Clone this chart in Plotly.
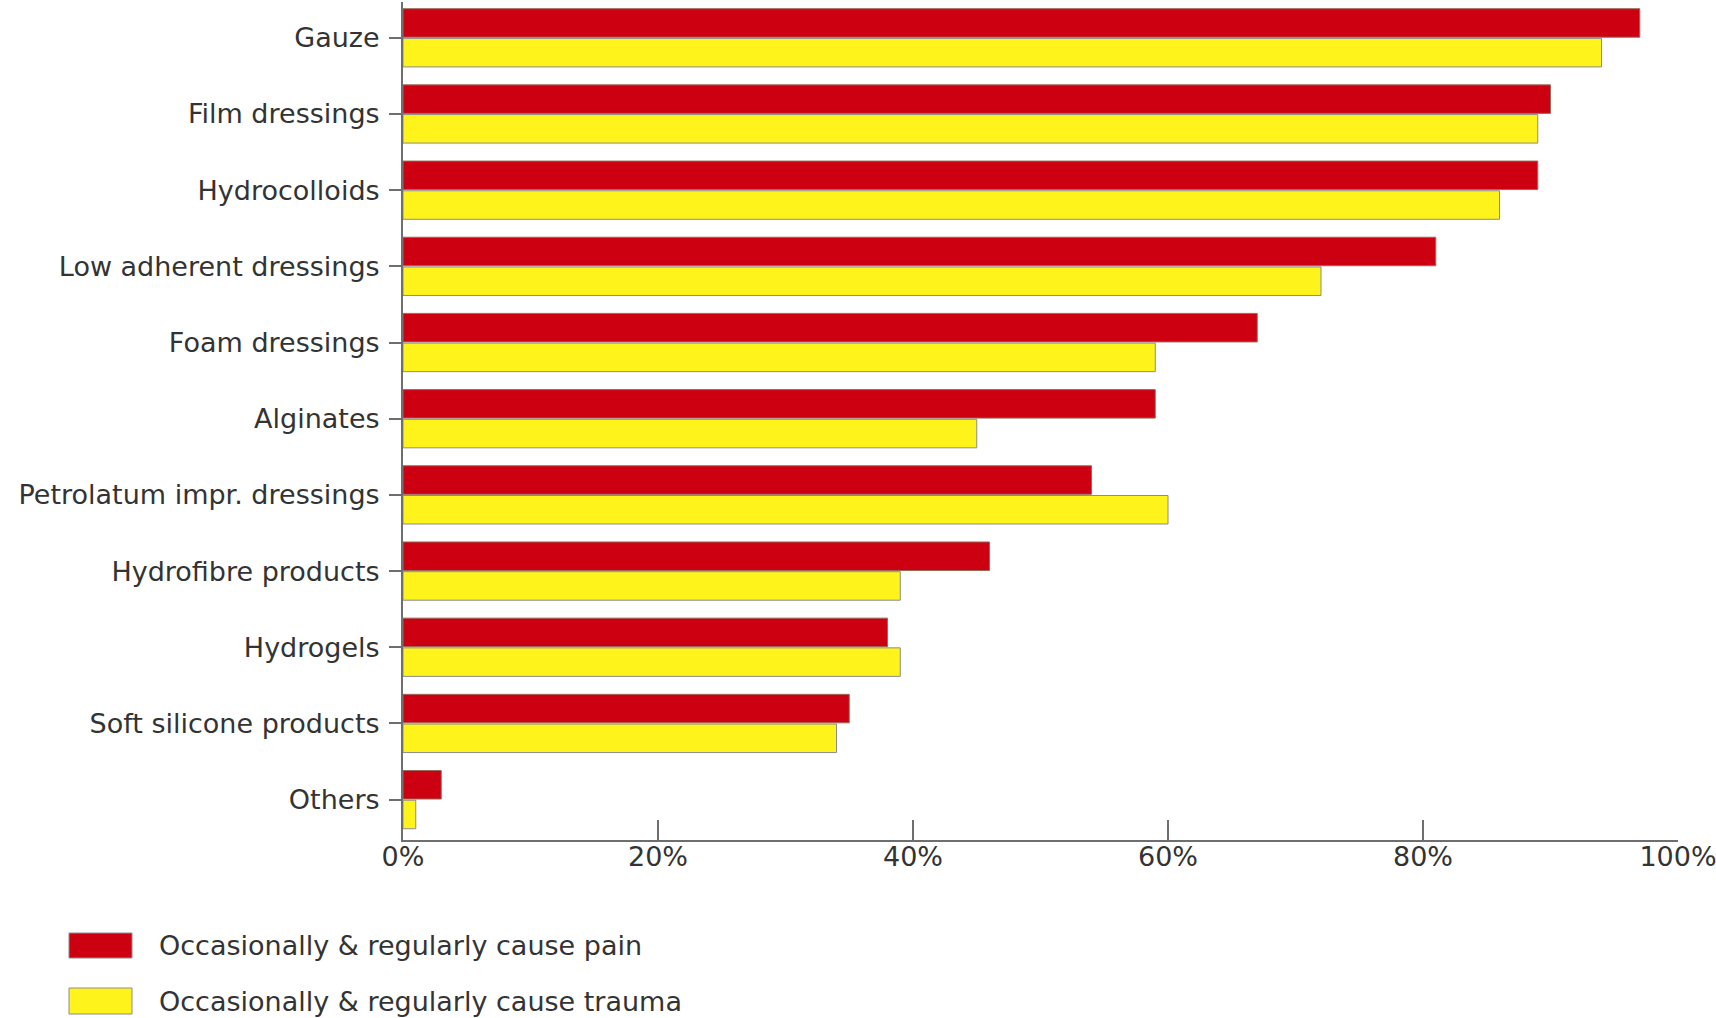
import plotly.graph_objects as go

# Dressing categories, top to bottom
categories = [
    "Gauze", "Film dressings", "Hydrocolloids", "Low adherent dressings",
    "Foam dressings", "Alginates", "Petrolatum impr. dressings",
    "Hydrofibre products", "Hydrogels", "Soft silicone products", "Others",
]

# Share of respondents (%)
pain_name = "Occasionally & regularly cause pain"
pain_values = [97, 90, 89, 81, 67, 59, 54, 46, 38, 35, 3]

trauma_name = "Occasionally & regularly cause trauma"
trauma_values = [94, 89, 86, 72, 59, 45, 60, 39, 39, 34, 1]

x_ticks = [0, 20, 40, 60, 80, 100]
x_tick_labels = ["0%", "20%", "40%", "60%", "80%", "100%"]

RED = "#cc0011"
YELLOW = "#fff31c"
EDGE = "#8c8c8c"
TEXT = "#333333"
AXIS = "#6e6e6e"
FONT = "DejaVu Sans, Arial, sans-serif"
FS = 27

W, H = 1716, 1018
ML, MR, MT, MB = 403, 38, 2, 178

fig = go.Figure()
fig.add_trace(go.Bar(
    y=categories, x=pain_values, name=pain_name, orientation="h",
    marker=dict(color=RED, line=dict(color="#9a6a5a", width=1)),
))
fig.add_trace(go.Bar(
    y=categories, x=trauma_values, name=trauma_name, orientation="h",
    marker=dict(color=YELLOW, line=dict(color=EDGE, width=1)),
))

# Manual legend below the axis: wide swatches with labels
def px_x(px):
    return (px - ML) / (W - ML - MR)

def px_y(py):
    return (H - MB - py) / (H - MT - MB)

legend_rows = [(pain_name, RED, 933, 958), (trauma_name, YELLOW, 988, 1014)]
shapes = []
annotations = []
for name, color, top, bottom in legend_rows:
    shapes.append(dict(
        type="rect", xref="paper", yref="paper",
        x0=px_x(69), x1=px_x(132), y0=px_y(bottom), y1=px_y(top),
        fillcolor=color, line=dict(color=EDGE, width=1),
    ))
    annotations.append(dict(
        xref="paper", yref="paper", x=px_x(157), y=px_y((top + bottom) / 2),
        xanchor="left", yanchor="middle", text=name, showarrow=False,
        font=dict(family=FONT, size=FS, color=TEXT),
    ))

fig.update_layout(
    width=W, height=H,
    margin=dict(l=ML, r=MR, t=MT, b=MB, pad=0, autoexpand=False),
    barmode="group", bargap=0.22, bargroupgap=0.04,
    plot_bgcolor="white", paper_bgcolor="white",
    showlegend=False,
    font=dict(family=FONT, size=FS, color=TEXT),
    shapes=shapes, annotations=annotations,
)
fig.update_xaxes(
    range=[0, 100], tickvals=x_ticks, ticktext=x_tick_labels,
    showgrid=False, zeroline=False, automargin=False,
    showline=True, linecolor=AXIS, linewidth=2,
    ticks="inside", ticklen=20, tickcolor=AXIS, tickwidth=2,
    ticklabelstandoff=-8, ticklabeloverflow="allow",
    tickfont=dict(family=FONT, size=FS, color=TEXT),
)
fig.update_yaxes(
    autorange=False, range=[10.53, -0.47],
    showgrid=False, zeroline=False, automargin=False,
    showline=True, linecolor=AXIS, linewidth=2,
    ticks="outside", ticklen=12, tickcolor=AXIS, tickwidth=2,
    ticklabelstandoff=4,
    tickfont=dict(family=FONT, size=FS, color=TEXT),
)

fig.write_html("out.html")
